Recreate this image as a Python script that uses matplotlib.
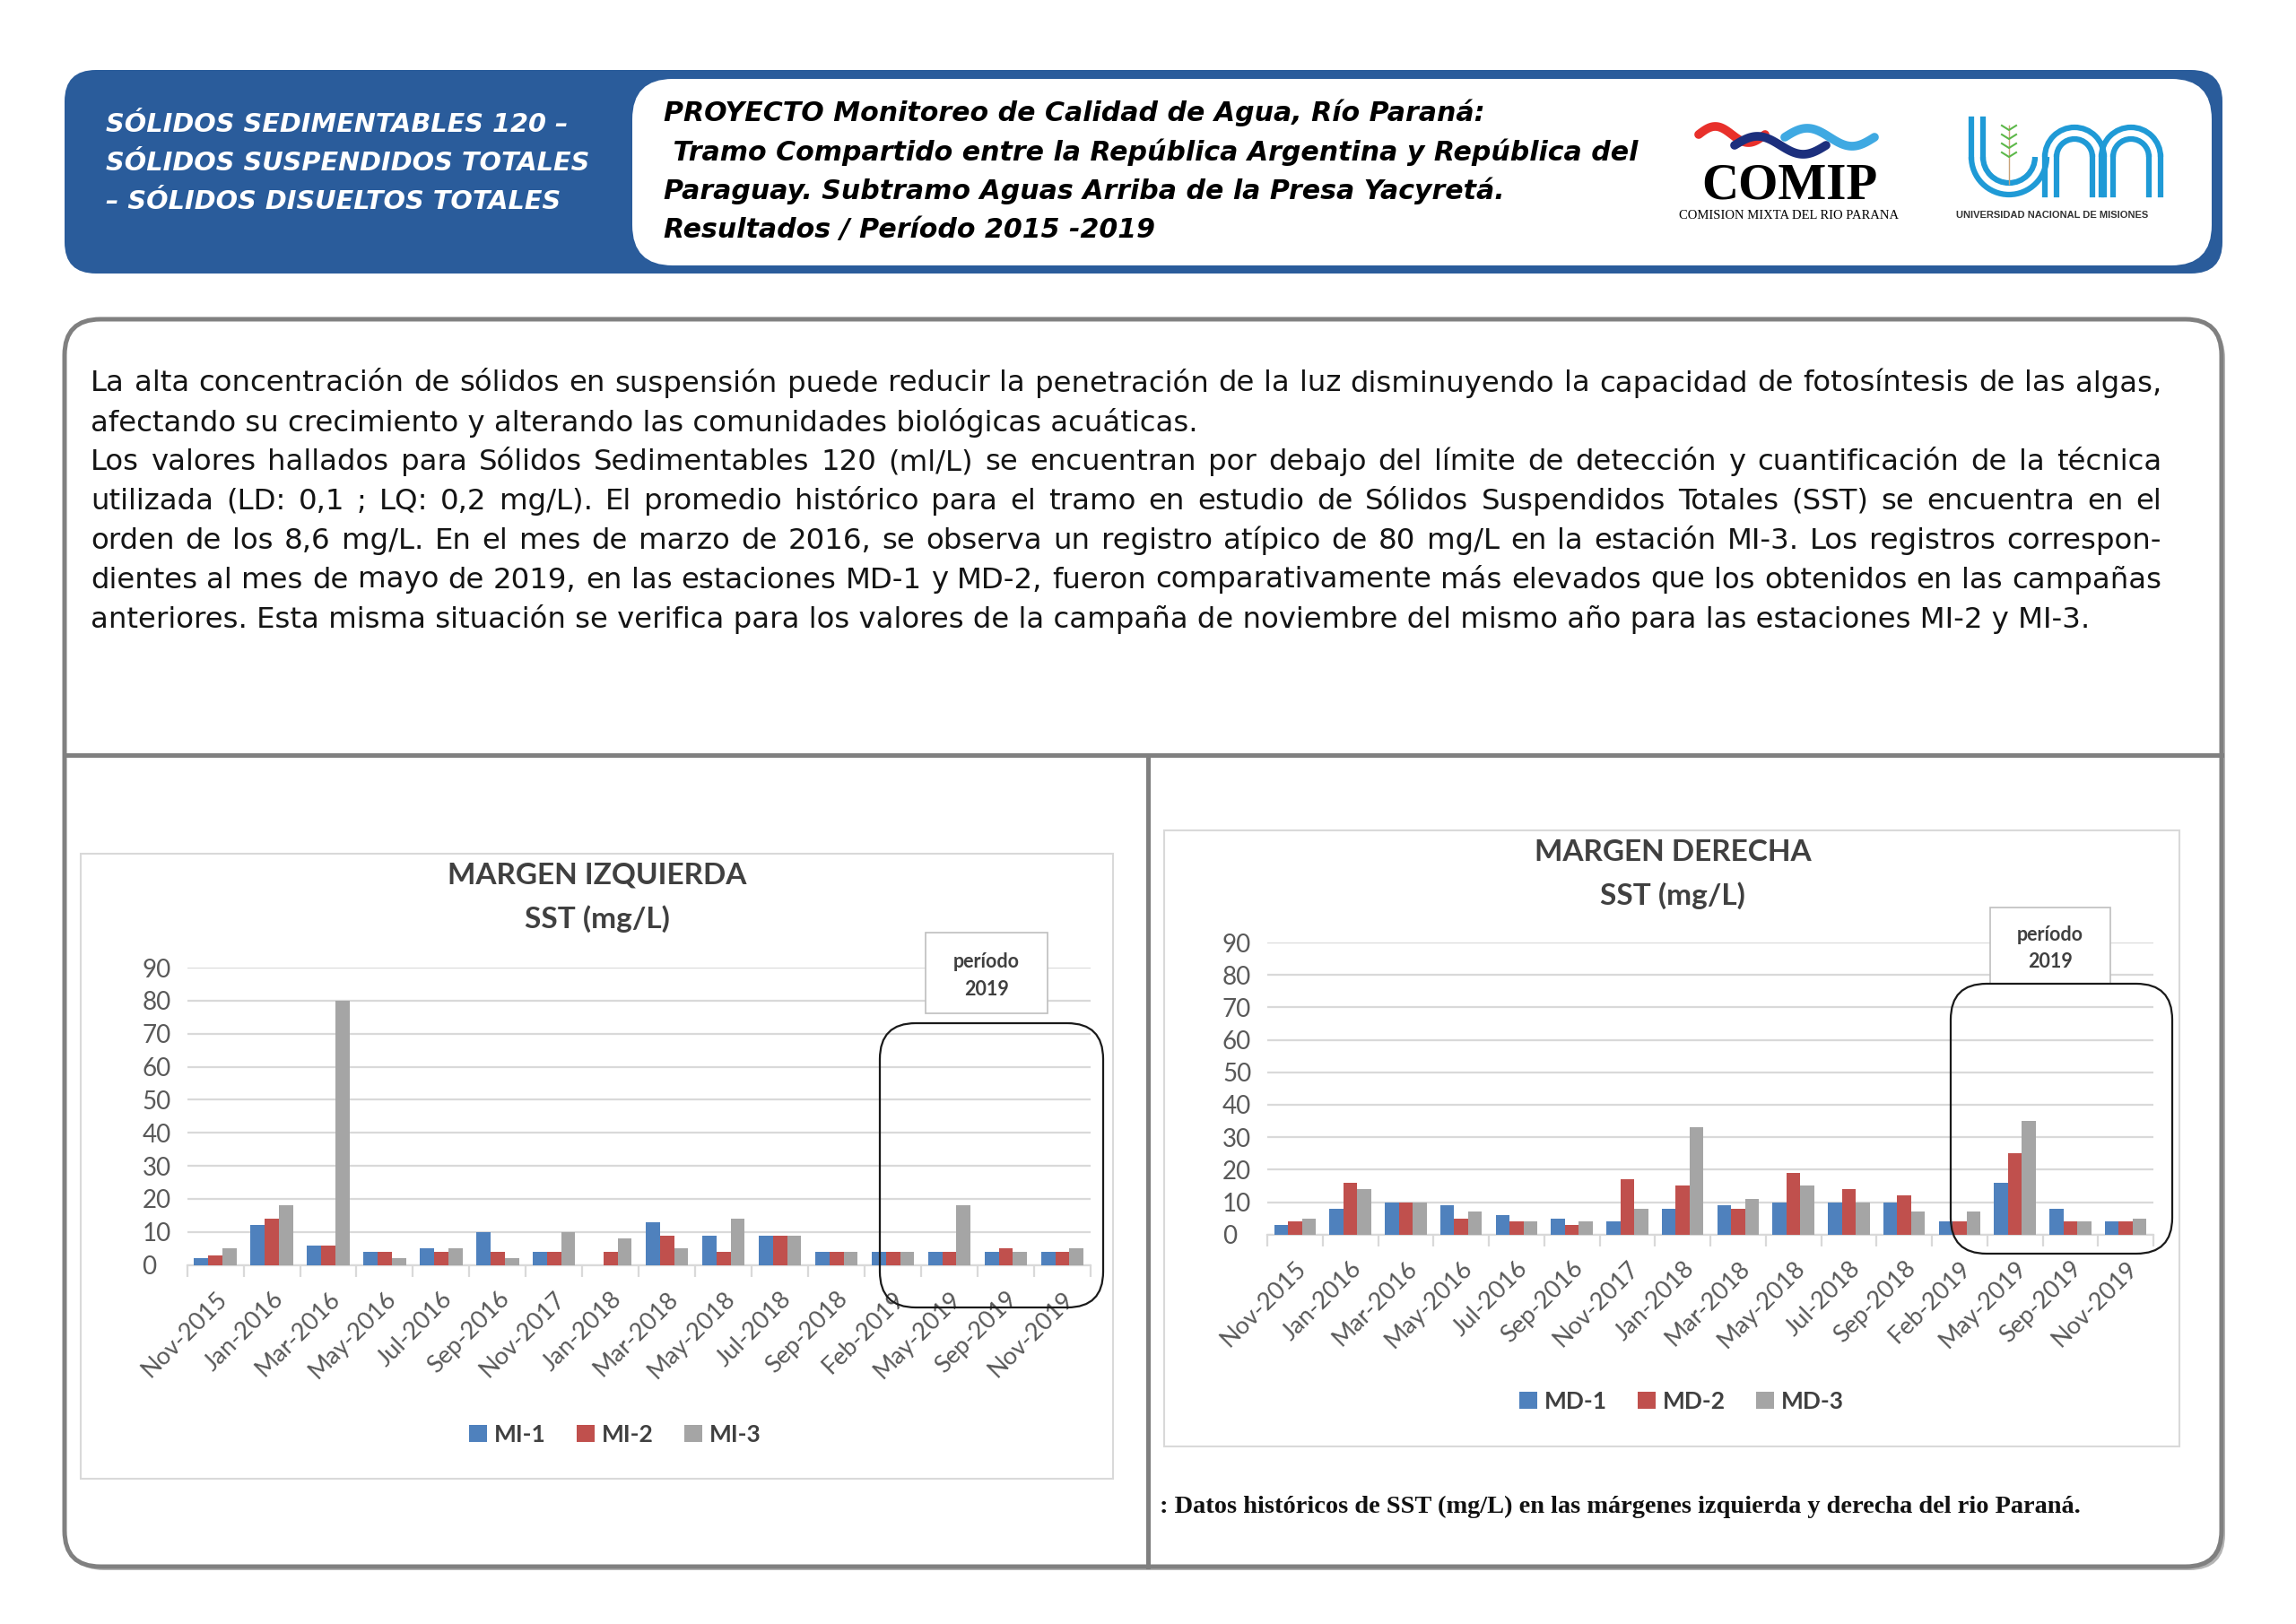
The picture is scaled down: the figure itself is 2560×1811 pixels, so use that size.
import matplotlib.pyplot as plt
import numpy as np
from matplotlib.patches import FancyBboxPatch, Rectangle, Arc

# Datos (mg/L)
fechas = ['Nov-2015', 'Jan-2016', 'Mar-2016', 'May-2016', 'Jul-2016', 'Sep-2016',
          'Nov-2017', 'Jan-2018', 'Mar-2018', 'May-2018', 'Jul-2018', 'Sep-2018',
          'Feb-2019', 'May-2019', 'Sep-2019', 'Nov-2019']

mi1 = [2, 12, 6, 4, 5, 10, 4, 0, 13, 9, 9, 4, 4, 4, 4, 4]
mi2 = [3, 14, 6, 4, 4, 4, 4, 4, 9, 4, 9, 4, 4, 4, 5, 4]
mi3 = [5, 18, 80, 2, 5, 2, 10, 8, 5, 14, 9, 4, 4, 18, 4, 5]

md1 = [3, 8, 10, 9, 6, 5, 4, 8, 9, 10, 10, 10, 4, 16, 8, 4]
md2 = [4, 16, 10, 5, 4, 3, 17, 15, 8, 19, 14, 12, 4, 25, 4, 4]
md3 = [5, 14, 10, 7, 4, 4, 8, 33, 11, 15, 10, 7, 7, 35, 4, 5]

colores = ['#4f81bd', '#c0504d', '#a5a5a5']
azul = '#2a5c9b'

titulo_izq = ['SÓLIDOS SEDIMENTABLES 120 –',
              'SÓLIDOS SUSPENDIDOS TOTALES',
              '– SÓLIDOS DISUELTOS TOTALES']
titulo_der = ['PROYECTO Monitoreo de Calidad de Agua, Río Paraná:',
              ' Tramo Compartido entre la República Argentina y República del',
              'Paraguay. Subtramo Aguas Arriba de la Presa Yacyretá.',
              'Resultados / Período 2015 -2019']

texto = [
    'La alta concentración de sólidos en suspensión puede reducir la penetración de la luz disminuyendo la capacidad de fotosíntesis de las algas,',
    'afectando su crecimiento y alterando las comunidades biológicas acuáticas.',
    'Los valores hallados para Sólidos Sedimentables 120 (ml/L) se encuentran por debajo del límite de detección y cuantificación de la técnica',
    'utilizada (LD: 0,1 ; LQ: 0,2 mg/L). El promedio histórico para el tramo en estudio de Sólidos Suspendidos Totales (SST) se encuentra en el',
    'orden de los 8,6 mg/L. En el mes de marzo de 2016, se observa un registro atípico de 80 mg/L en la estación MI-3. Los registros correspon-',
    'dientes al mes de mayo de 2019, en las estaciones MD-1 y MD-2, fueron comparativamente más elevados que los obtenidos en las campañas',
    'anteriores. Esta misma situación se verifica para los valores de la campaña de noviembre del mismo año para las estaciones MI-2 y MI-3.',
]
justificar = [True, False, True, True, True, True, False]

W, H = 2560, 1811
plt.rcParams['font.family'] = ['Lato', 'DejaVu Sans']

fig = plt.figure(figsize=(W / 100, H / 100), dpi=100)

# capa de fondo en pixeles (y hacia abajo)
deco = fig.add_axes([0, 0, 1, 1], zorder=0)
deco.set_xlim(0, W)
deco.set_ylim(H, 0)
deco.axis('off')

# capa superior para cajas sobre los graficos
top = fig.add_axes([0, 0, 1, 1], zorder=5)
top.set_xlim(0, W)
top.set_ylim(H, 0)
top.axis('off')
top.patch.set_alpha(0)


def caja(ax, x, y, w, h, r, **kw):
    p = FancyBboxPatch((x, y), w, h, boxstyle='round,pad=0,rounding_size=%d' % r, **kw)
    ax.add_patch(p)
    return p


# ---- cabecera ----
caja(deco, 72, 78, 2406, 227, 35, fc=azul, ec='none')
caja(deco, 705, 88, 1761, 208, 45, fc='white', ec='none')

for i, t in enumerate(titulo_izq):
    deco.text(118, 139 + i * 43, t, color='white', fontsize=20.7, fontweight='bold',
              fontstyle='italic', family='DejaVu Sans', va='center', ha='left')
for i, t in enumerate(titulo_der):
    deco.text(740, 126 + i * 43.5, t, color='black', fontsize=21.6, fontweight='bold',
              fontstyle='italic', family='DejaVu Sans', va='center', ha='left')

# logo COMIP (aproximado)
tt = np.linspace(0, 1, 60)
for x0, w, yc, a, c in [(1894, 74, 150, 9, '#e8302b'), (1934, 102, 162, 10, '#1c2f7d'),
                        (1990, 100, 153, 10, '#3fa9e2')]:
    deco.plot(x0 + tt * w, yc - a * np.sin(2 * np.pi * tt), color=c, lw=7, solid_capstyle='round')
deco.text(1995, 207, 'COMIP', family='Liberation Serif', fontsize=41, fontweight='bold',
          ha='center', va='center', color='black')
deco.text(1995, 240, 'COMISION MIXTA DEL RIO PARANA', family='Liberation Serif', fontsize=10.5,
          ha='center', va='center', color='black')

# logo UNaM (aproximado)
celeste = '#1f9ad6'
for r in [42, 29]:
    deco.plot([2240 - r, 2240 - r], [133, 175], color=celeste, lw=4.5)
    deco.add_patch(Arc((2240, 175), 2 * r, 2 * r, theta1=0, theta2=180, color=celeste, lw=4.5))
for cx in [2313, 2376]:
    for r in [33, 20]:
        deco.add_patch(Arc((cx, 175), 2 * r, 2 * r, theta1=180, theta2=360, color=celeste, lw=4.5))
        deco.plot([cx - r, cx - r], [175, 217], color=celeste, lw=4.5)
        deco.plot([cx + r, cx + r], [175, 217], color=celeste, lw=4.5)
deco.plot([2240, 2240], [140, 205], color='#c9a27a', lw=1)
for yy in [145, 155, 165, 175]:
    deco.plot([2232, 2240, 2248], [yy - 5, yy, yy - 5], color='#5cb84a', lw=1.5)
deco.text(2288, 240, 'UNIVERSIDAD NACIONAL DE MISIONES', family='Liberation Sans', fontsize=8,
          fontweight='bold', ha='center', va='center', color='#333333')

# ---- panel principal ----
caja(deco, 76, 360, 2405, 1391, 40, fc='#b5b5b5', ec='none')
caja(deco, 72, 356, 2405, 1391, 40, fc='white', ec='#808080', lw=3.6)
deco.plot([72, 2477], [842, 842], color='#808080', lw=3.6)
deco.plot([1280, 1280], [842, 1747], color='#808080', lw=3.6)

# texto justificado; el tamano se ajusta para que la ultima linea mida como en el original
renderer = fig.canvas.get_renderer()
x_ini, x_fin = 101, 2410
prueba = deco.text(0, 0, texto[-1], fontsize=22, family='DejaVu Sans')
tam = 22 * 2228 / prueba.get_window_extent(renderer).width
prueba.remove()

for i, (linea, jus) in enumerate(zip(texto, justificar)):
    y = 428 + i * 43.8
    kw = dict(fontsize=tam, family='DejaVu Sans', color='#141414', va='center', ha='left')
    if not jus:
        deco.text(x_ini, y, linea, **kw)
        continue
    palabras = linea.split(' ')
    ts = [deco.text(0, y, p, **kw) for p in palabras]
    anchos = [t.get_window_extent(renderer).width for t in ts]
    hueco = (x_fin - x_ini - sum(anchos)) / (len(palabras) - 1)
    x = x_ini
    for t, a in zip(ts, anchos):
        t.set_x(x)
        x += a + hueco

# marcos de los graficos de Excel
deco.add_patch(Rectangle((90, 952), 1151, 697, fill=False, ec='#d9d9d9', lw=1.5))
deco.add_patch(Rectangle((1298, 926), 1132, 687, fill=False, ec='#d9d9d9', lw=1.5))

for cx, y1, t1 in [(666, 976, 'MARGEN IZQUIERDA'), (1865, 950, 'MARGEN DERECHA')]:
    deco.text(cx, y1, t1, ha='center', va='center', fontsize=24, fontweight='bold', color='#404040')
    deco.text(cx, y1 + 49, 'SST (mg/L)', ha='center', va='center', fontsize=24,
              fontweight='bold', color='#404040')

deco.text(1293, 1680, ': Datos históricos de SST (mg/L) en las márgenes izquierda y derecha del rio Paraná.',
          family='Liberation Serif', fontweight='bold', fontsize=20.4, ha='left', va='center', color='#111111')


def grafico(x0, x1, ybot, ytop, series, nombres, ley_xy):
    ax = fig.add_axes([x0 / W, 1 - ybot / H, (x1 - x0) / W, (ybot - ytop) / H], zorder=2)
    ax.patch.set_alpha(0)
    x = np.arange(len(fechas))
    for i, (vals, nom) in enumerate(zip(series, nombres)):
        ax.bar(x + (i - 1) * 0.25, vals, 0.25, color=colores[i], label=nom, zorder=3)
    ax.set_xlim(-0.5, len(fechas) - 0.5)
    ax.set_ylim(0, 90)
    ax.set_yticks(range(0, 91, 10))
    ax.grid(axis='y', color='#d9d9d9', lw=1.6, zorder=0)
    for s in ['top', 'right', 'left']:
        ax.spines[s].set_visible(False)
    ax.spines['bottom'].set_color('#d9d9d9')
    ax.spines['bottom'].set_linewidth(1.6)
    ax.set_xticks(np.arange(len(fechas) + 1) - 0.5)
    ax.set_xticklabels([])
    ax.tick_params(axis='x', which='major', length=9, width=1.6, color='#d9d9d9')
    ax.set_xticks(x, minor=True)
    ax.set_xticklabels(fechas, minor=True, rotation=45, ha='right', rotation_mode='anchor',
                       fontsize=19.5, color='#595959')
    ax.tick_params(axis='x', which='minor', length=0, pad=18)
    ax.tick_params(axis='y', length=0, pad=36, labelsize=20, labelcolor='#595959')
    for lab in ax.get_yticklabels():
        lab.set_horizontalalignment('left')
    ax.legend(loc='center', bbox_to_anchor=(ley_xy[0] / W, 1 - ley_xy[1] / H),
              bbox_transform=fig.transFigure, ncol=3, frameon=False,
              labelcolor='#404040', handlelength=0.75, handleheight=0.75,
              handletextpad=0.3, columnspacing=1.3, prop={'weight': 'bold', 'size': 19})
    return ax


grafico(208.6, 1216, 1410.7, 1079, [mi1, mi2, mi3], ['MI-1', 'MI-2', 'MI-3'], (686, 1600))
grafico(1413, 2401, 1376.7, 1051, [md1, md2, md3], ['MD-1', 'MD-2', 'MD-3'], (1875, 1563))

# recuadros "periodo 2019"
for bx, by, bw, bh, rx, ry, rw, rh in [(1032, 1040, 136, 90, 981, 1141, 249, 317),
                                       (2219, 1012, 134, 85, 2175, 1097, 247, 301)]:
    top.add_patch(Rectangle((bx, by), bw, bh, fc='white', ec='#bfbfbf', lw=1.2))
    top.text(bx + bw / 2, by + bh * 0.36, 'período', ha='center', va='center', fontsize=15.5,
             fontweight='bold', color='#404040')
    top.text(bx + bw / 2, by + bh * 0.71, '2019', ha='center', va='center', fontsize=15.5,
             fontweight='bold', color='#404040')
    caja(top, rx, ry, rw, rh, 40, fill=False, ec='#1a1a1a', lw=1.6)

fig.savefig('out.png', dpi=100, facecolor='white')
